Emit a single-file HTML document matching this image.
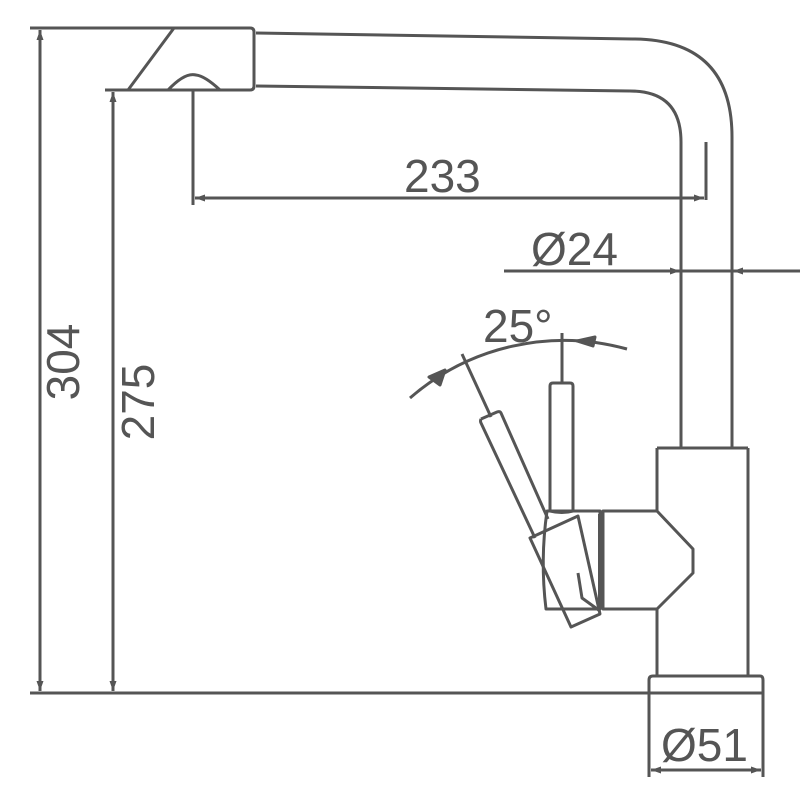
<!DOCTYPE html>
<html><head><style>html,body{margin:0;padding:0;background:#fff;}svg{display:block}</style></head>
<body>
<svg width="807" height="809" viewBox="0 0 807 809" xmlns="http://www.w3.org/2000/svg">
<defs>
<marker id="a" viewBox="0 0 10 10" refX="10" refY="5" markerWidth="34" markerHeight="10" markerUnits="userSpaceOnUse" orient="auto-start-reverse"><path d="M0,1.5 L10,5 L0,8.5 z" fill="#555"/></marker>
</defs>
<g fill="none" stroke="#555" stroke-width="3" stroke-linejoin="round">
<!-- extension lines -->
<line x1="30" y1="28" x2="175" y2="28"/>
<line x1="105" y1="90" x2="190" y2="90"/>
<line x1="30" y1="693" x2="763" y2="693"/>
<!-- 304 -->
<line x1="40" y1="30" x2="40" y2="691" marker-start="url(#a)" marker-end="url(#a)"/>
<!-- 275 -->
<line x1="113" y1="92" x2="113" y2="691" marker-start="url(#a)" marker-end="url(#a)"/>
<!-- spout -->
<path d="M174,28 L128,90 L250,90 Q254,90 254,86 L254,32 Q254,28 250,28 Z"/>
<path d="M168,90 Q185,72 196,75 Q205,76 220,90"/>
<line x1="256" y1="33" x2="632" y2="39"/>
<line x1="256" y1="86" x2="630" y2="91"/>
<path d="M632,39 Q732,39 732,137 L732,448"/>
<path d="M630,91 Q681,91 681,142 L681,448"/>
<!-- 233 -->
<line x1="193" y1="90" x2="193" y2="205"/>
<line x1="195" y1="198" x2="704" y2="198" marker-start="url(#a)" marker-end="url(#a)"/>
<line x1="706" y1="142" x2="706" y2="200"/>
<!-- Ø24 -->
<line x1="504" y1="271" x2="680" y2="271" marker-end="url(#a)"/>
<line x1="681" y1="271" x2="732" y2="271"/>
<line x1="800" y1="271" x2="733" y2="271" marker-end="url(#a)"/>
<!-- body -->
<line x1="657" y1="448" x2="748" y2="448"/>
<line x1="657" y1="448" x2="657" y2="511"/>
<line x1="748" y1="448" x2="748" y2="676"/>
<path d="M603,511 L657,511 L693,549 L693,573 L657,609 L603,609 Z"/>
<line x1="657" y1="609" x2="657" y2="676"/>
<line x1="599" y1="514" x2="599" y2="606" stroke-width="2"/>
<path d="M653,676 L760,676 Q763,676 763,680 L763,777"/>
<path d="M649,777 L649,680 Q649,676 653,676"/>
<!-- Ø51 -->
<line x1="651" y1="770" x2="761" y2="770" marker-start="url(#a)" marker-end="url(#a)"/>
<!-- cartridge -->
<path d="M547,511 L600,511 L600,609 L546,609 Q540,560 547,511 Z"/>
<path d="M550,511 Q562,514 573,511"/>
<!-- vertical lever -->
<path d="M550,511 L550,386 Q550,383 553,383 L570,383 Q573,383 573,386 L573,511"/>
<!-- tilted lever -->
<path d="M481,419 L497,412 Q500,411 501,413 L548,519"/>
<path d="M481,419 Q480,421 481,423 L535,538"/>
<path d="M530,538 L578,516 L600,614 L571,627 Z"/>
<path d="M578,573 L582,598 L600,611"/>
<!-- angle -->
<path d="M410,398 A235,235 0 0 1 627,349"/>
<line x1="562" y1="333" x2="562" y2="383"/>
<line x1="462" y1="354" x2="491" y2="417"/>
<path d="M429,377 L445,370 L440,385 Z" fill="#555"/>
<path d="M577,341 L595,337 L593,346 Z" fill="#555"/>
</g>
<g fill="#555" font-family="Liberation Sans, sans-serif" font-size="46">
<text x="404" y="192">233</text>
<text x="531" y="265">Ø24</text>
<text x="483" y="342">25°</text>
<text x="661" y="761">Ø51</text>
<text transform="translate(79,362) rotate(-90)" text-anchor="middle">304</text>
<text transform="translate(154,402) rotate(-90)" text-anchor="middle">275</text>
</g>
</svg>
</body></html>
